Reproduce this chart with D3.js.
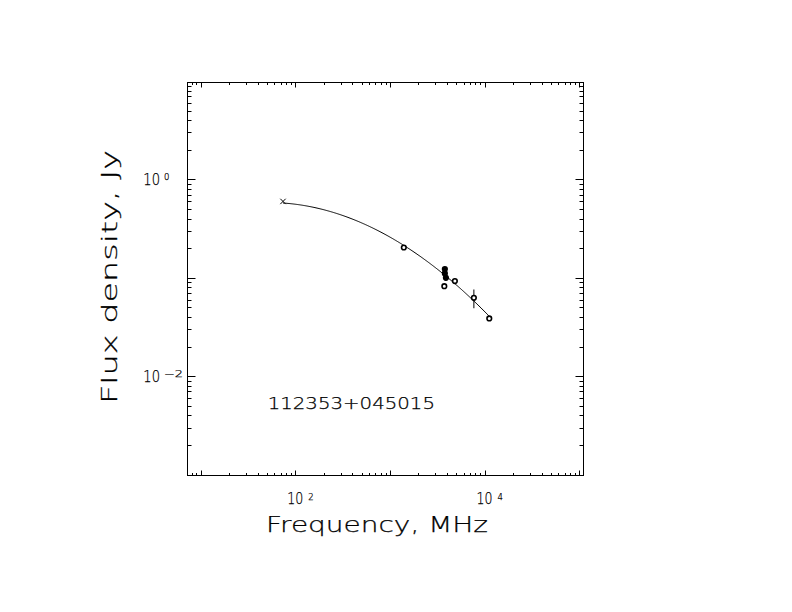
<!DOCTYPE html>
<html>
<head>
<meta charset="utf-8">
<script src="https://cdn.jsdelivr.net/npm/d3@7"></script>
<style>
  html, body { margin: 0; padding: 0; background: #fff; }
  svg { display: block; }
  text { font-family: "DejaVu Sans", sans-serif; font-weight: 200; fill: #000; stroke: #000; stroke-width: 0.25; }
</style>
</head>
<body>
<svg id="chart" width="792" height="612"></svg>
<script>
// ---- data ----
const freqMHz   = [74, 1400, 3800, 3800, 3900, 3750, 4850, 7700, 11200];
const fluxJy    = [0.597, 0.203, 0.1225, 0.1107, 0.0999, 0.0822, 0.0925, 0.0625, 0.0386];
const fluxErr   = [0, 0, 0.004, 0.004, 0.004, 0, 0.006, 0.0135, 0.002];
const symbols   = ["cross", "ring", "dot", "dot", "dot", "ring", "ring", "ring", "ring"];
// fitted spectrum: log S = c0 + c1*(log f - 3) + c2*(log f - 3)^2
const fitCoef   = [-0.5867, -0.5455, -0.2112];
const fitRange  = [74, 11200];
const xTickExps = [2, 4];
const yTickExps = [0, -2];
const sourceName = "112353+045015";
const xTitle = "Frequency, MHz";
const yTitle = "Flux density, Jy";

// ---- layout ----
const svg = d3.select("#chart");
const L = 187.5, R = 583.5, T = 82.5, B = 475.5;
const x = d3.scaleLog().domain([Math.pow(10, 0.86), Math.pow(10, 5.045)]).range([L, R]);
const y = d3.scaleLog().domain([Math.pow(10, -3.01), Math.pow(10, 0.985)]).range([B, T]);

const g = svg.append("g");

// frame
g.append("rect").attr("x", L).attr("y", T).attr("width", R - L).attr("height", B - T)
  .attr("fill", "none").attr("stroke", "#000").attr("stroke-width", 1);

// ticks
function logTicks(domain) {
  const out = [];
  const lo = Math.floor(Math.log10(domain[0])), hi = Math.ceil(Math.log10(domain[1]));
  for (let e = lo; e <= hi; e++) {
    for (let m = 1; m <= 9; m++) {
      const v = m * Math.pow(10, e);
      if (v >= domain[0] && v <= domain[1]) out.push({v, major: m === 1});
    }
  }
  return out;
}
const xt = logTicks(x.domain());
const yt = logTicks(y.domain());
const tk = g.append("g").attr("stroke", "#000").attr("stroke-width", 1);
xt.forEach(t => {
  const px = Math.round(x(t.v)) + 0.5;
  const len = t.major ? 5 : 2.5;
  tk.append("line").attr("x1", px).attr("x2", px).attr("y1", B).attr("y2", B - len);
  tk.append("line").attr("x1", px).attr("x2", px).attr("y1", T).attr("y2", T + len);
});
yt.forEach(t => {
  const py = Math.round(y(t.v)) + 0.5;
  const len = t.major ? 8 : 4;
  tk.append("line").attr("y1", py).attr("y2", py).attr("x1", L).attr("x2", L + len);
  tk.append("line").attr("y1", py).attr("y2", py).attr("x1", R).attr("x2", R - len);
});

// tick labels
xTickExps.forEach(e => {
  const px = x(Math.pow(10, e));
  g.append("text").attr("x", px - 8).attr("y", 503.5).attr("font-size", 15.5)
    .attr("textLength", 16).attr("lengthAdjust", "spacingAndGlyphs").text("10");
  g.append("text").attr("x", px + 13).attr("y", 499.5).attr("font-size", 8.5).text(String(e));
});
yTickExps.forEach(e => {
  const py = y(Math.pow(10, e));
  g.append("text").attr("x", 143.3).attr("y", py + 5.8).attr("font-size", 15.5)
    .attr("textLength", 16.7).attr("lengthAdjust", "spacingAndGlyphs").text("10");
  const s = e < 0 ? "\u2212" + Math.abs(e) : String(e);
  const ex = g.append("text").attr("x", 164).attr("y", py + 0.5).attr("font-size", 8.5).text(s);
  if (e < 0) ex.attr("textLength", 19).attr("lengthAdjust", "spacingAndGlyphs");
});

// axis titles
g.append("text").attr("x", 266).attr("y", 531.7).attr("font-size", 21)
  .attr("textLength", 222).attr("lengthAdjust", "spacingAndGlyphs").text(xTitle);
g.append("text").attr("transform", "translate(117.3,404) rotate(-90)").attr("x", 0).attr("y", 0)
  .attr("font-size", 21).attr("textLength", 254).attr("lengthAdjust", "spacingAndGlyphs").text(yTitle);

// source name
g.append("text").attr("x", 267.7).attr("y", 409).attr("font-size", 15.5)
  .attr("textLength", 167.3).attr("lengthAdjust", "spacingAndGlyphs").text(sourceName);

// fitted curve
const lf0 = Math.log10(fitRange[0]), lf1 = Math.log10(fitRange[1]);
const curve = d3.range(0, 201).map(i => {
  const lf = lf0 + (lf1 - lf0) * i / 200;
  const v = lf - 3;
  const ls = fitCoef[0] + fitCoef[1] * v + fitCoef[2] * v * v;
  return [Math.pow(10, lf), Math.pow(10, ls)];
});
g.append("path").datum(curve)
  .attr("d", d3.line().x(d => x(d[0])).y(d => y(d[1])))
  .attr("fill", "none").attr("stroke", "#000").attr("stroke-width", 1);

// points
const pts = freqMHz.map((f, i) => ({f, s: fluxJy[i], e: fluxErr[i], sym: symbols[i]}));
const pg = g.append("g");
pts.forEach(p => {
  const px = x(p.f), py = y(p.s);
  if (p.e > 0) {
    pg.append("line").attr("x1", px).attr("x2", px)
      .attr("y1", y(p.s + p.e)).attr("y2", y(p.s - p.e))
      .attr("stroke", "#000").attr("stroke-width", 1);
  }
  if (p.sym === "cross") {
    const d = 2.7;
    pg.append("path").attr("d", `M${px - d},${py - d}L${px + d},${py + d}M${px - d},${py + d}L${px + d},${py - d}`)
      .attr("stroke", "#000").attr("stroke-width", 1).attr("fill", "none");
  } else {
    pg.append("circle").attr("cx", px).attr("cy", py).attr("r", 2.3)
      .attr("fill", p.sym === "dot" ? "#000" : "#fff")
      .attr("stroke", "#000").attr("stroke-width", 1.6);
  }
});
</script>
</body>
</html>
